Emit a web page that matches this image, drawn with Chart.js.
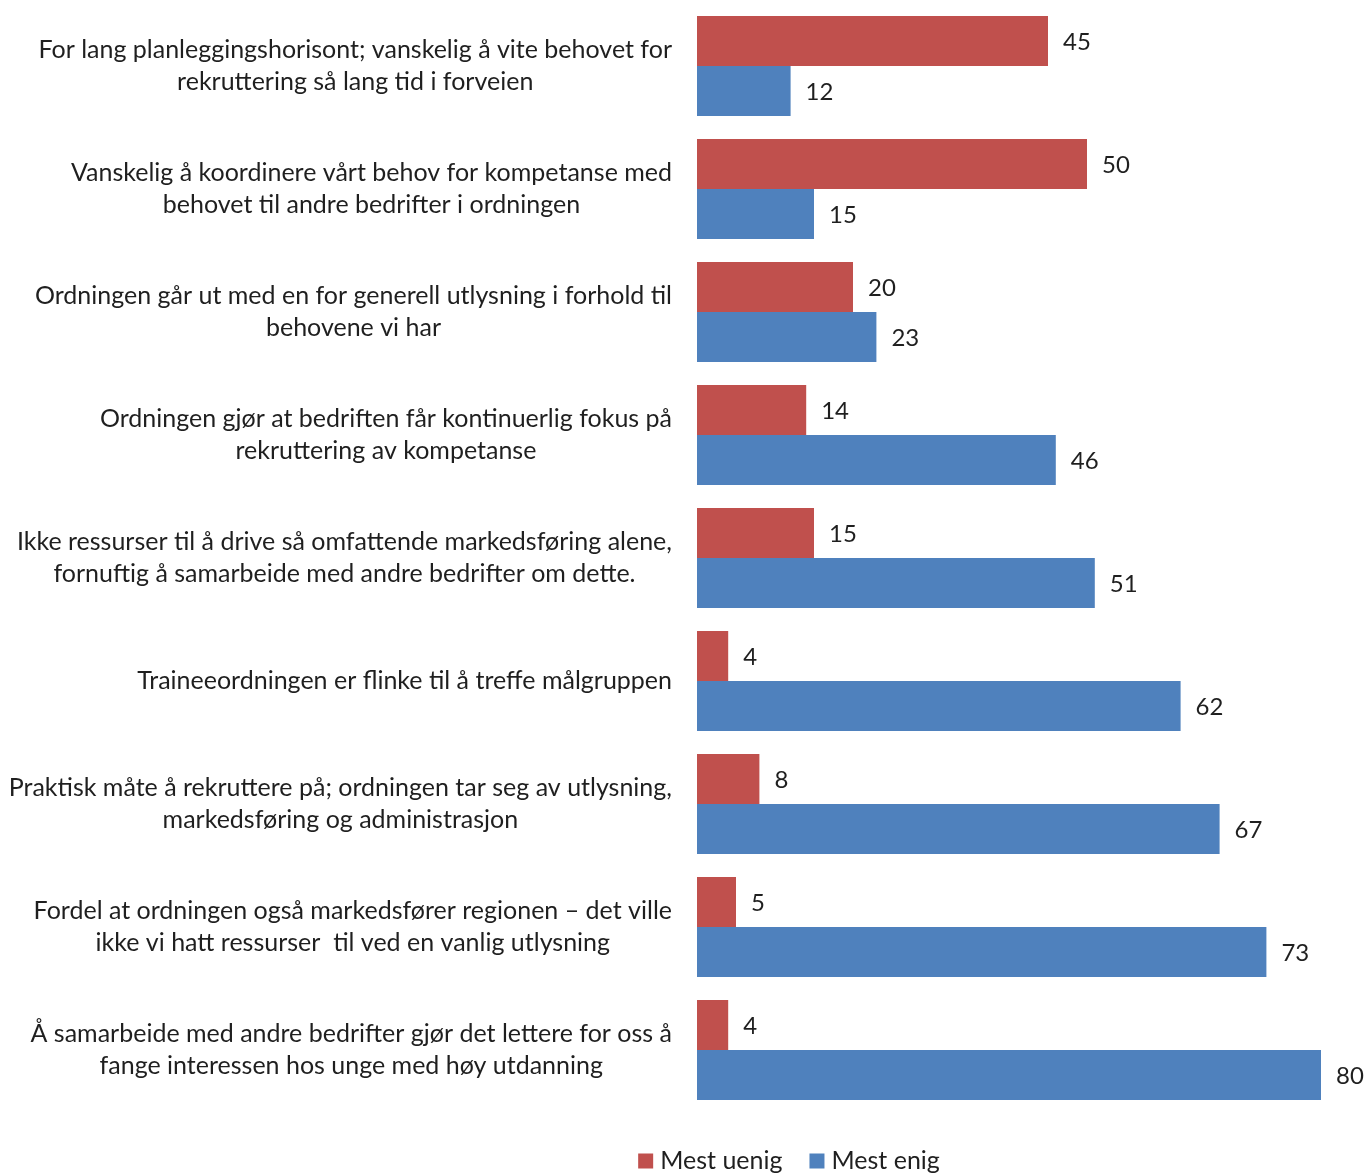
<!DOCTYPE html>
<html>
<head>
<meta charset="utf-8">
<script src="https://cdn.jsdelivr.net/npm/chart.js@4/dist/chart.umd.min.js"></script>
<style>
  html, body { margin: 0; padding: 0; background: #fff; }
  #wrap { width: 1366px; height: 1174px; position: relative; }
</style>
</head>
<body>
<div id="wrap"><canvas id="chart"></canvas></div>
<script>
// === Data ===
const categories = [
    ["For lang planleggingshorisont; vanskelig å vite behovet for", "rekruttering så lang tid i forveien"],
    ["Vanskelig å koordinere vårt behov for kompetanse med", "behovet til andre bedrifter i ordningen"],
    ["Ordningen går ut med en for generell utlysning i forhold til", "behovene vi har"],
    ["Ordningen gjør at bedriften får kontinuerlig fokus på", "rekruttering av kompetanse"],
    ["Ikke ressurser til å drive så omfattende markedsføring alene,", "fornuftig å samarbeide med andre bedrifter om dette."],
    ["Traineeordningen er flinke til å treffe målgruppen"],
    ["Praktisk måte å rekruttere på; ordningen tar seg av utlysning,", "markedsføring og administrasjon"],
    ["Fordel at ordningen også markedsfører regionen – det ville", "ikke vi hatt ressurser  til ved en vanlig utlysning"],
    ["Å samarbeide med andre bedrifter gjør det lettere for oss å", "fange interessen hos unge med høy utdanning"],
];
const mestUenig = [45, 50, 20, 14, 15, 4, 8, 5, 4];
const mestEnig = [12, 15, 23, 46, 51, 62, 67, 73, 80];
const seriesNames = ["Mest uenig", "Mest enig"];

const RED = "#C0504D";
const BLUE = "#4F81BD";
const TEXT = "#1f1f1f";
const FONT = "Lato, 'Open Sans', sans-serif";

// === Plugin: category labels, value labels and legend ===
const drawText = {
    id: "drawText",
    afterDatasetsDraw(chart) {
        const ctx = chart.ctx;
        const yScale = chart.scales.y;
        ctx.save();
        ctx.fillStyle = TEXT;
        ctx.textBaseline = "middle";

        // category labels: each block centred, block right edge at 672
        ctx.font = "25px " + FONT;
        ctx.textAlign = "center";
        categories.forEach((lines, i) => {
            const cy = yScale.getPixelForValue(i);
            const w = Math.max(...lines.map(l => ctx.measureText(l).width));
            const cx = 672 - w / 2;
            const lh = 32;
            const top = cy - (lines.length - 1) * lh / 2;
            lines.forEach((l, j) => ctx.fillText(l, cx, top + j * lh));
        });

        // value labels right of each bar
        ctx.font = "24px " + FONT;
        ctx.textAlign = "left";
        chart.data.datasets.forEach((ds, di) => {
            chart.getDatasetMeta(di).data.forEach((bar, i) => {
                ctx.fillText(String(ds.data[i]), bar.x + 15, bar.y + 1);
            });
        });

        // legend
        ctx.font = "25px " + FONT;
        const box = 15, gapBox = 7, gapItem = 27;
        const widths = seriesNames.map(n => box + gapBox + ctx.measureText(n).width);
        const total = widths.reduce((a, b) => a + b, 0) + gapItem;
        let x = 789 - total / 2;
        const ly = 1161;
        chart.data.datasets.forEach((ds, di) => {
            ctx.fillStyle = ds.backgroundColor;
            ctx.fillRect(x, ly - box / 2, box, box);
            ctx.fillStyle = TEXT;
            ctx.fillText(ds.label, x + box + gapBox, ly);
            x += widths[di] + gapItem;
        });
        ctx.restore();
    }
};

// === Chart ===
new Chart(document.getElementById("chart"), {
    type: "bar",
    data: {
        labels: categories,
        datasets: [
            { label: seriesNames[0], data: mestUenig, backgroundColor: RED },
            { label: seriesNames[1], data: mestEnig, backgroundColor: BLUE },
        ],
    },
    options: {
        responsive: true,
        maintainAspectRatio: false,
        animation: false,
        indexAxis: "y",
        categoryPercentage: 100 / 123,
        barPercentage: 1,
        layout: { padding: { left: 697, right: 6, top: 4.5, bottom: 62.5 } },
        scales: {
            x: { display: false, min: 0, max: 85 },
            y: { display: false },
        },
        plugins: {
            legend: { display: false },
            tooltip: { enabled: false },
        },
    },
    plugins: [drawText],
});
</script>
</body>
</html>
